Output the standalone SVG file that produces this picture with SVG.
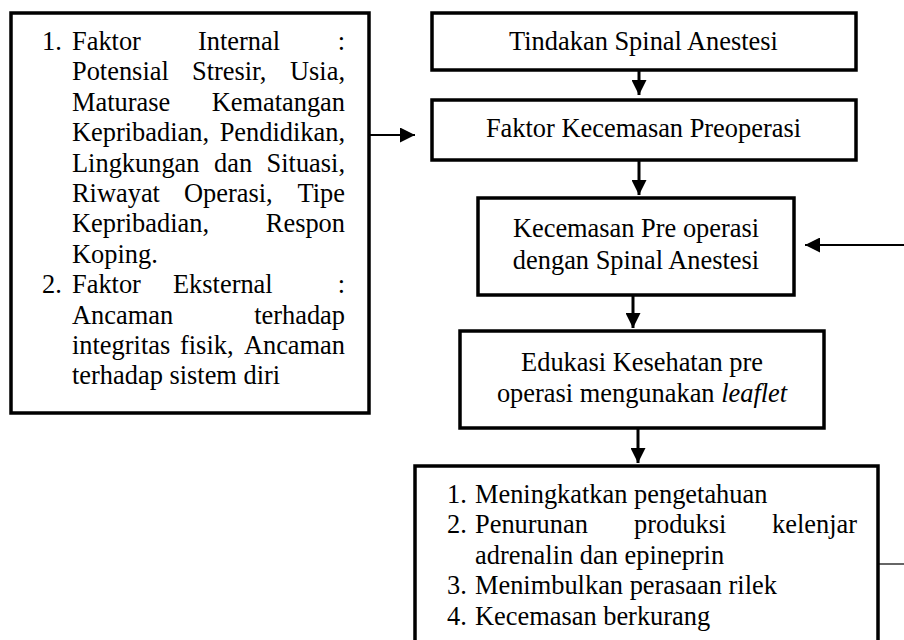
<svg xmlns="http://www.w3.org/2000/svg" width="904" height="640" viewBox="0 0 904 640" font-family="'Liberation Serif', Tinos, 'Times New Roman', Times, 'DejaVu Serif', serif">
<style>
.box{fill:#fff;stroke:#000;stroke-width:3.5}
text{font-family:'Liberation Serif', Tinos, 'Times New Roman', Times, 'DejaVu Serif', serif;font-size:26.4px;fill:#000}
.c{text-anchor:middle}
.e{text-anchor:end}
.arr{stroke:#000;stroke-width:3;fill:none}
.thin{stroke:#000;stroke-width:2;fill:none}
</style>
<defs>
<marker id="ah" markerUnits="userSpaceOnUse" markerWidth="15" markerHeight="15" refX="15" refY="7.5" orient="auto" viewBox="0 0 15 15">
<path d="M0,0 L15,7.5 L0,15 z" fill="#000"/>
</marker>
</defs>
<g id="connectors">
<line class="arr" x1="639" y1="70" x2="639" y2="95" marker-end="url(#ah)"/>
<line class="arr" x1="639" y1="161" x2="639" y2="195" marker-end="url(#ah)"/>
<line class="arr" x1="633" y1="296" x2="633" y2="328" marker-end="url(#ah)"/>
<line class="arr" x1="638" y1="429" x2="638" y2="463" marker-end="url(#ah)"/>
<line class="thin" x1="370" y1="135" x2="415" y2="135" marker-end="url(#ah)"/>
<line class="thin" x1="904" y1="245" x2="805" y2="245" marker-end="url(#ah)"/>
<line x1="856" y1="564" x2="904" y2="564" stroke="#333" stroke-width="1.5"/>
</g>
<g id="factors">
<rect class="box" x="11" y="13" width="358" height="400"/>
<text x="42" y="50">1.</text><text x="72" y="50">Faktor</text><text x="198" y="50">Internal</text><text class="e" x="345" y="50">:</text>
<text x="72" y="80.4">Potensial</text><text x="192" y="80.4">Stresir,</text><text class="e" x="345" y="80.4">Usia,</text>
<text x="72" y="110.8">Maturase</text><text class="e" x="345" y="110.8">Kematangan</text>
<text x="72" y="141.2">Kepribadian,</text><text class="e" x="345" y="141.2">Pendidikan,</text>
<text x="72" y="171.6">Lingkungan</text><text x="214" y="171.6">dan</text><text class="e" x="345" y="171.6">Situasi,</text>
<text x="72" y="202">Riwayat</text><text x="184" y="202">Operasi,</text><text class="e" x="345" y="202">Tipe</text>
<text x="72" y="232.4">Kepribadian,</text><text class="e" x="345" y="232.4">Respon</text>
<text x="72" y="262.8">Koping.</text>
<text x="42" y="293.2">2.</text><text x="72" y="293.2">Faktor</text><text x="173" y="293.2">Eksternal</text><text class="e" x="345" y="293.2">:</text>
<text x="72" y="323.6">Ancaman</text><text class="e" x="345" y="323.6">terhadap</text>
<text x="72" y="354">integritas</text><text x="180" y="354">fisik,</text><text class="e" x="345" y="354">Ancaman</text>
<text x="72" y="384.4">terhadap sistem diri</text>
</g>
<g id="tindakan">
<rect class="box" x="432" y="13" width="424" height="57"/>
<text class="c" x="643.5" y="50">Tindakan Spinal Anestesi</text>
</g>
<g id="faktor-kecemasan">
<rect class="box" x="432" y="100" width="424" height="60"/>
<text class="c" x="643.5" y="137">Faktor Kecemasan Preoperasi</text>
</g>
<g id="kecemasan">
<rect class="box" x="478" y="198" width="316" height="97"/>
<text class="c" x="636" y="237">Kecemasan Pre operasi</text>
<text class="c" x="636" y="269">dengan Spinal Anestesi</text>
</g>
<g id="edukasi">
<rect class="box" x="460" y="331" width="364" height="97"/>
<text class="c" x="642" y="371">Edukasi Kesehatan pre</text>
<text class="c" x="642" y="402">operasi mengunakan <tspan font-style="italic">leaflet</tspan></text>
</g>
<g id="hasil">
<rect class="box" x="415" y="466" width="463" height="200"/>
<text x="447" y="503">1.</text><text x="475" y="503">Meningkatkan pengetahuan</text>
<text x="447" y="533.4">2.</text><text x="475" y="533.4">Penurunan</text><text x="634" y="533.4">produksi</text><text class="e" x="857" y="533.4">kelenjar</text>
<text x="475" y="563.8">adrenalin dan epineprin</text>
<text x="447" y="594.2">3.</text><text x="475" y="594.2">Menimbulkan perasaan rilek</text>
<text x="447" y="624.6">4.</text><text x="475" y="624.6">Kecemasan berkurang</text>
</g>
</svg>
